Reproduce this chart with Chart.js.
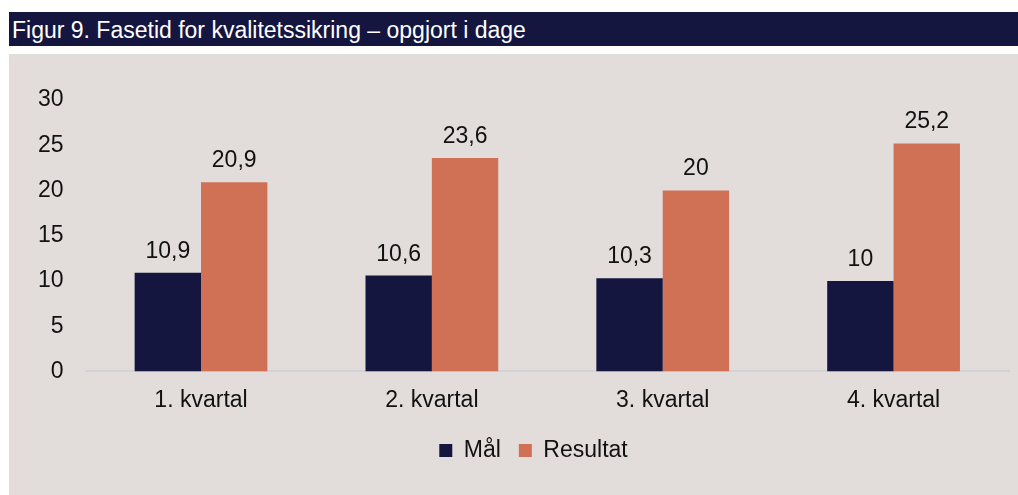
<!DOCTYPE html>
<html lang="da">
  <head>
    <meta charset="UTF-8">
    <title>Figur 9</title>
    <script src="https://cdn.jsdelivr.net/npm/chart.js@4"></script>
    <style>
      body { margin: 0; background: #ffffff; width: 1018px; height: 495px; overflow: hidden; position: relative; font-family: "Liberation Sans", Arial, sans-serif; }
      #title { position: absolute; left: 9px; top: 12px; width: 1009px; height: 34px; background: #15163f; color: #ffffff; font-size: 23px; line-height: 36px; padding-left: 3px; box-sizing: border-box; }
      #panel { position: absolute; left: 9px; top: 54px; width: 1009px; height: 441px; background: #e2dcdb; }
    </style>
  </head>
  <body>
    <div id="title">Figur 9. Fasetid for kvalitetssikring – opgjort i dage</div>
    <div id="panel"><canvas id="chart" width="1009" height="441"></canvas></div>
    <script type="text/javascript">
      const categories = ['1. kvartal', '2. kvartal', '3. kvartal', '4. kvartal']
      const maal = [10.9, 10.6, 10.3, 10]
      const resultat = [20.9, 23.6, 20, 25.2]

      const fontFamily = '"Liberation Sans", Arial, sans-serif'

      // value labels above bars, comma as decimal sign
      const valueLabels = {
        id: 'valueLabels',
        afterDatasetsDraw(chart) {
          const ctx = chart.ctx
          ctx.save()
          ctx.font = '23px ' + fontFamily
          ctx.fillStyle = '#111111'
          ctx.textAlign = 'center'
          ctx.textBaseline = 'alphabetic'
          chart.data.datasets.forEach((ds, i) => {
            chart.getDatasetMeta(i).data.forEach((bar, j) => {
              const txt = String(ds.data[j]).replace('.', ',')
              ctx.fillText(txt, bar.x, bar.y - 15)
            })
          })
          ctx.restore()
        }
      }

      // nudge the legend a bit to the right, as in the original figure
      const legendShift = {
        id: 'legendShift',
        afterLayout(chart) {
          if (chart.legend) {
            chart.legend.left += 17
            chart.legend.right += 17
          }
        }
      }

      const ctx = document.getElementById('chart').getContext('2d')
      new Chart(ctx, {
        type: 'bar',
        data: {
          labels: categories,
          datasets: [
            { label: 'Mål', data: maal, backgroundColor: '#15163f' },
            { label: 'Resultat', data: resultat, backgroundColor: '#d07055' }
          ]
        },
        options: {
          responsive: false,
          animation: false,
          datasets: { bar: { categoryPercentage: 0.575, barPercentage: 1 } },
          layout: { padding: { top: 46, right: 9, bottom: 23, left: 15 } },
          plugins: {
            tooltip: { enabled: false },
            legend: {
              position: 'bottom',
              labels: {
                font: { family: fontFamily, size: 23 },
                color: '#111111',
                boxWidth: 13,
                boxHeight: 13,
                padding: 18
              }
            }
          },
          scales: {
            x: {
              grid: { display: false },
              border: { color: '#d3d2d8', width: 2 },
              ticks: { font: { family: fontFamily, size: 23 }, color: '#111111', padding: 7 }
            },
            y: {
              min: 0,
              max: 30,
              grid: { display: false },
              border: { display: false },
              ticks: { stepSize: 5, font: { family: fontFamily, size: 23 }, color: '#111111', padding: 14 }
            }
          }
        },
        plugins: [valueLabels, legendShift]
      })
    </script>
  </body>
</html>
